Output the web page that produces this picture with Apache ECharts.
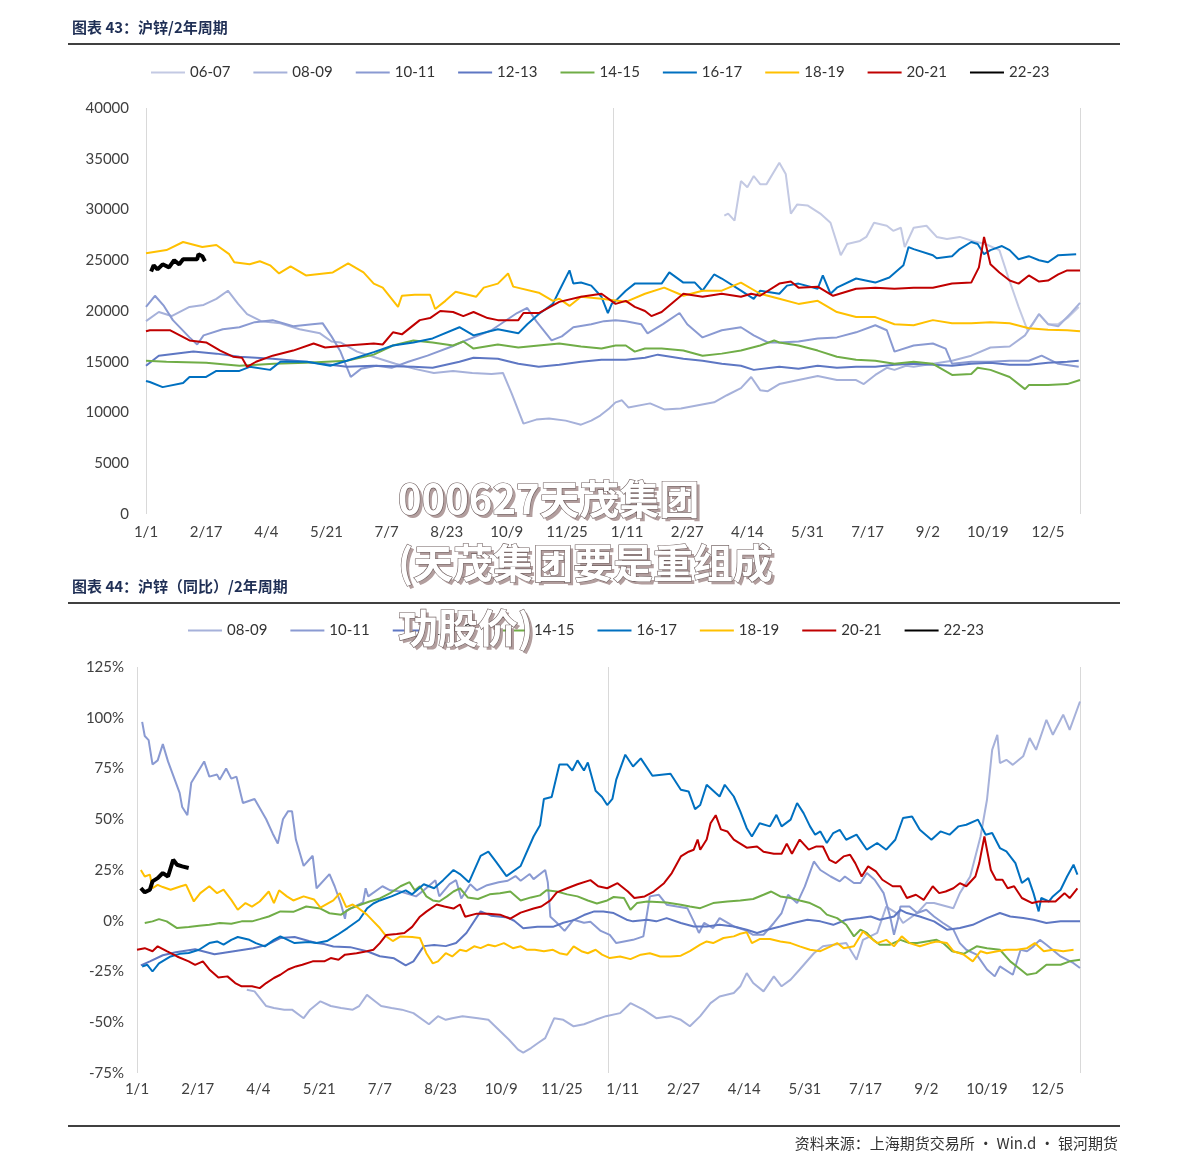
<!DOCTYPE html>
<html><head><meta charset="utf-8">
<script src="https://cdn.jsdelivr.net/npm/echarts/dist/echarts.min.js"></script>
<style>html,body{margin:0;padding:0;background:#fff;} #c{width:1191px;height:1172px;}</style>
</head><body><div id="c"></div><script>
// ---------- tick labels (every 47 days over a 2-year window, day 0 = 1/1) ----------
const tickLabels = ['1/1','2/17','4/4','5/21','7/7','8/23','10/9','11/25','1/11','2/27','4/14','5/31','7/17','9/2','10/19','12/5'];
const namesTop = ['06-07','08-09','10-11','12-13','14-15','16-17','18-19','20-21','22-23'];
const namesBottom = ['08-09','10-11','12-13','14-15','16-17','18-19','20-21','22-23'];

// ---------- Chart 43: price (yuan/t), [day, value] ----------
const p0607 = [[452,29400],[455,29600],[460,28900],[465,32800],[470,32200],[475,33300],[480,32500],[485,32500],[495,34600],[500,33500],[504,29600],[509,30500],[517,30400],[527,29600],[535,28700],[543,25500],[548,26600],[558,26900],[563,27300],[569,28700],[579,28400],[584,27900],[590,28200],[593,26300],[600,28200],[610,28400],[618,27300],[626,27100],[636,27300],[646,26900],[656,26600],[667,26000],[674,23300],[682,20400],[689,18100],[693,18700],[698,19700],[705,18700],[713,18700],[721,19400],[729,20400]];
const p0809 = [[0,19000],[10,19900],[20,19500],[34,20400],[45,20600],[55,21200],[64,22000],[72,20700],[79,19700],[90,19000],[105,18800],[120,18200],[136,17800],[145,17000],[152,16900],[165,16000],[180,15400],[195,14800],[210,14300],[225,13900],[240,14100],[255,13900],[270,13800],[279,13900],[286,11800],[295,8900],[305,9300],[315,9400],[328,9200],[340,8800],[348,9200],[355,9700],[362,10400],[367,11000],[372,11200],[377,10500],[394,10900],[405,10300],[418,10400],[444,11000],[454,11700],[465,12400],[473,13500],[480,12200],[486,12100],[495,12800],[510,13200],[525,13600],[540,13200],[555,13200],[561,12800],[570,13700],[579,14400],[585,14200],[594,14600],[600,14500],[615,14800],[630,15100],[645,15600],[660,16400],[675,16500],[687,17600],[698,19700],[705,18700],[713,18500],[723,19800],[730,20800]];
const p1011 = [[0,20400],[7,21500],[14,20500],[21,19100],[34,17400],[40,16700],[45,17600],[60,18200],[73,18400],[85,18900],[99,19100],[115,18500],[130,18700],[138,18800],[145,17500],[152,16000],[160,13500],[168,14300],[180,14600],[192,14400],[205,15000],[220,15600],[239,16500],[250,17100],[270,18100],[290,19800],[298,20300],[305,19000],[317,17100],[325,17500],[334,18400],[348,18700],[358,19000],[367,19100],[375,19000],[387,18700],[392,17800],[404,18700],[417,19800],[423,18700],[435,17400],[450,18100],[465,18400],[475,17600],[486,16900],[495,16900],[510,17000],[525,17300],[540,17400],[555,17900],[570,18600],[579,18100],[585,16000],[600,16600],[615,16800],[625,16300],[630,14800],[645,15000],[660,15000],[675,15100],[690,15100],[700,15600],[713,14800],[729,14500]];
const p1213 = [[0,14600],[10,15600],[37,16000],[55,15800],[73,15500],[99,15300],[125,15000],[157,14500],[178,14600],[209,14500],[224,14400],[245,15000],[256,15400],[275,15300],[291,14800],[307,14500],[323,14700],[340,15000],[356,15200],[375,15200],[390,15400],[400,15700],[420,15300],[435,15100],[450,14800],[465,14600],[475,14200],[495,14500],[510,14300],[525,14600],[540,14400],[555,14500],[570,14500],[585,14700],[600,14800],[615,14700],[630,14600],[645,14800],[660,14900],[675,14700],[690,14700],[705,14900],[720,15000],[729,15100]];
const p1415 = [[0,15100],[16,15000],[47,14900],[73,14600],[100,14800],[125,14900],[157,15100],[178,15700],[193,16600],[209,17100],[224,16900],[240,16600],[248,17000],[256,16300],[275,16700],[291,16400],[307,16600],[323,16800],[340,16500],[356,16300],[367,16600],[375,16600],[382,16000],[390,16300],[403,16300],[420,16100],[435,15600],[450,15800],[465,16100],[480,16600],[491,17100],[495,16900],[510,16600],[525,16100],[540,15500],[555,15200],[570,15100],[585,14800],[600,15000],[615,14800],[630,13700],[645,13800],[650,14400],[660,14200],[675,13500],[687,12300],[690,12700],[705,12700],[720,12800],[730,13200]];
const p1617 = [[0,13100],[3,13000],[13,12500],[29,12900],[34,13500],[47,13500],[55,14100],[73,14100],[81,14500],[97,14200],[105,15000],[126,15000],[144,14600],[157,15100],[178,15950],[193,16600],[209,16900],[224,17300],[245,18400],[256,17600],[275,18200],[291,17800],[298,18700],[307,19700],[318,20700],[323,22000],[331,24000],[334,22700],[340,22800],[348,22500],[356,21400],[361,19800],[364,20700],[367,21000],[375,22000],[382,22700],[403,22700],[409,23800],[420,22800],[429,22800],[435,22000],[444,23600],[450,23200],[465,22000],[475,21200],[480,22000],[495,21700],[501,22500],[510,22700],[525,22200],[529,23500],[535,21700],[540,22300],[555,23200],[570,22800],[581,23300],[592,24500],[596,26300],[600,26100],[615,25500],[618,25200],[630,25400],[636,26100],[645,26800],[650,26600],[655,25600],[660,26000],[669,26400],[675,26000],[682,25100],[690,25400],[698,25000],[705,24800],[713,25500],[727,25600]];
const p1819 = [[0,25700],[16,26000],[29,26800],[44,26300],[55,26500],[65,25600],[69,24800],[81,24600],[89,24900],[97,24500],[104,23700],[113,24400],[125,23500],[146,23800],[158,24700],[170,23800],[178,22700],[185,22300],[197,20400],[200,21500],[210,21600],[222,21600],[226,20200],[234,21000],[242,21900],[258,21400],[264,22300],[275,22700],[283,23700],[287,22400],[307,21800],[318,21000],[323,21200],[331,20500],[340,21400],[356,21200],[375,20900],[390,21700],[405,22300],[420,21500],[435,22000],[450,22000],[465,22800],[480,21700],[495,21200],[510,20700],[525,21000],[540,19900],[555,19400],[570,19400],[585,18700],[600,18600],[615,19100],[630,18800],[645,18800],[660,18900],[675,18800],[690,18300],[705,18150],[720,18100],[730,18000]];
const p2021 = [[0,18000],[3,18100],[19,18100],[34,17100],[47,16900],[58,16100],[68,15500],[75,15400],[79,14500],[86,15000],[99,15600],[115,16100],[131,16800],[140,16400],[157,16600],[178,16800],[185,16700],[193,17900],[200,17700],[214,19100],[222,19300],[230,20000],[240,19900],[248,19500],[256,19900],[267,19300],[275,19100],[291,19100],[295,19800],[307,19800],[323,20900],[340,21400],[356,21700],[367,20700],[375,21000],[382,20400],[390,20000],[395,19500],[403,19900],[420,21700],[435,21400],[450,21700],[465,21400],[473,21700],[480,21500],[495,22700],[504,22900],[510,22300],[525,22400],[537,21500],[555,22200],[570,22300],[585,22200],[600,22300],[615,22300],[630,22700],[645,22800],[651,24300],[655,27300],[660,24600],[667,23800],[675,23000],[682,22700],[690,23500],[698,22900],[705,23000],[713,23600],[720,24000],[730,24000]];
const p2223 = [[4,23900],[6,24500],[9,24100],[13,24600],[18,24300],[22,25000],[26,24600],[29,25100],[40,25100],[41,25600],[44,25400],[46,24900]];

// ---------- Chart 44: year-on-year (%), [day, value] ----------
const y0809 = [[85,-34],[91,-34.8],[95,-38],[100,-42],[106,-43],[114,-43.8],[120,-43.8],[129,-48],[134,-43.8],[142,-39.7],[150,-42],[158,-43],[167,-43.8],[172,-42],[178,-36.5],[183,-39],[189,-42],[197,-43],[205,-43.8],[214,-45.5],[226,-51],[233,-47],[239,-48.8],[244,-48],[252,-47],[264,-48],[272,-48.8],[280,-53.7],[288,-58.6],[295,-63.5],[299,-65],[305,-62.7],[311,-60],[316,-57.8],[323,-48],[330,-48.8],[338,-52],[346,-51],[355,-48.8],[363,-47],[374,-45.5],[382,-40.6],[392,-43.8],[402,-48],[413,-47],[421,-48.8],[428,-52],[436,-47],[444,-40.6],[451,-37.3],[462,-35.6],[467,-32.3],[472,-25.8],[477,-30.7],[485,-34.8],[493,-27.4],[499,-32.3],[506,-29],[513,-24],[524,-16],[531,-12.6],[539,-11.8],[549,-11],[557,-19.2],[562,-9.4],[573,-6],[580,7],[588,3.8],[593,-1.1],[604,3.8],[611,8.7],[617,8.7],[632,6.2],[637,13.6],[645,21.8],[653,41.5],[658,59.6],[662,84.2],[666,91.6],[668,77.7],[673,79.3],[678,76.8],[686,81],[691,90],[696,84.2],[704,99],[709,91.6],[717,101.5],[722,94],[730,108]];
const y1011 = [[4,98],[6,91],[9,89],[12,77],[16,79],[20,87],[24,78.5],[33,63],[35,56],[39,52],[42,68],[52,78.5],[56,71],[62,72],[64,69.5],[69,75],[73,70],[77,71],[82,58],[91,60],[100,50],[105,43],[109,38],[113,50],[117,54],[120,54],[123,40],[129,27],[136,32],[139,16],[149,23],[153,17],[158,8],[161,1],[162,5],[175,9],[177,16],[179,12],[190,17],[196,15],[204,14.4],[216,12],[222,15],[231,20],[234,12],[242,18],[247,20],[251,11],[258,18],[263,15],[271,17.5],[280,19],[287,19.7],[293,22],[297,19.7],[304,23],[307,20.5],[316,25],[318,19],[320,2],[325,-1],[331,-5],[338,0.5],[346,-1],[351,-0.5],[359,-5],[366,-7],[371,-11],[384,-9.4],[392,-7.7],[397,12],[404,12.8],[410,7.9],[418,7],[426,6.2],[431,-0.3],[435,-6],[439,-1.1],[446,-3.6],[451,1.3],[462,-2.8],[470,-4.4],[477,-6.9],[485,-6.9],[493,-1.1],[499,3.8],[504,12.8],[511,8.7],[517,16.9],[524,29.2],[529,25],[537,21.8],[544,19.4],[548,21.8],[555,18.6],[560,18.6],[565,23.5],[571,20.2],[578,13.6],[583,2.1],[586,-6.9],[589,0.5],[591,7],[598,7],[604,3.8],[611,5.4],[617,2.1],[624,-1.1],[632,-4.4],[637,-11],[642,-14.3],[650,-16.7],[658,-24],[664,-27.4],[668,-22.5],[678,-26.6],[684,-14.3],[689,-15],[694,-12.6],[699,-9.4],[704,-11.8],[715,-17.6],[725,-20.9],[730,-23.3]];
const y1213 = [[3,-22],[10,-20],[20,-17],[30,-15.5],[45,-14],[60,-16.5],[75,-15],[90,-13.5],[100,-12],[111,-8.5],[122,-8],[133,-10],[139,-11],[145,-11.5],[152,-12.7],[165,-13],[178,-15],[188,-17.5],[199,-18.5],[208,-22],[214,-20],[222,-12.5],[230,-12],[239,-12.5],[247,-11],[255,-6],[266,4.6],[274,2.5],[287,1.6],[292,0],[299,-3.7],[310,-3],[322,-3],[330,-1],[338,0.3],[346,2.8],[354,4.6],[361,4.6],[369,3.8],[379,0.5],[384,-0.3],[395,0.5],[402,-0.3],[410,1.3],[421,-1.1],[431,-2.8],[441,-2.8],[451,-2],[462,-2.8],[472,-4.4],[480,-6],[488,-4.4],[498,-2.8],[508,-1.1],[519,0.5],[529,-0.3],[539,-2],[549,0.5],[560,1.3],[568,2.1],[575,0.5],[586,2.1],[591,5.4],[596,3.8],[606,2.1],[617,-0.3],[627,-4.4],[637,-3.6],[647,-2],[658,1.3],[668,3.8],[676,2.1],[686,1.3],[694,0.5],[704,-1.1],[715,-0.3],[730,-0.3]];
const y1415 = [[6,-1.1],[12,-0.3],[17,0.8],[23,-0.3],[31,-3.6],[40,-3.1],[48,-2.5],[56,-2],[64,-1.1],[73,-1.5],[81,-0.3],[89,-0.3],[95,0.8],[102,2.1],[111,4.6],[121,4.4],[131,7],[142,6],[149,3.7],[158,3],[165,6],[173,7.9],[180,9.5],[188,11],[196,13.6],[204,17],[211,19],[215,15],[219,17],[224,12],[229,10],[234,9.5],[240,12],[245,14.4],[250,16],[256,11.5],[264,10.7],[273,13],[281,13.5],[289,14.4],[297,10],[305,11.5],[312,12.5],[317,15],[325,14.4],[333,13],[341,12],[349,10],[356,8.5],[364,10],[369,11.7],[377,11.2],[382,5.4],[387,8.7],[395,9.5],[410,9],[421,7.9],[428,7],[436,6.2],[446,8.7],[457,9.5],[467,10],[477,10.7],[485,12.8],[491,14.4],[498,12],[506,11.2],[513,10],[521,8.7],[529,6.2],[534,3],[542,1.3],[549,-2],[555,-7.7],[560,-4.4],[565,-6],[570,-9.4],[575,-11.8],[583,-11.8],[591,-9.4],[598,-11],[604,-11],[611,-10.2],[619,-9.4],[624,-11],[631,-15],[640,-16.3],[650,-12.6],[658,-13.5],[668,-14.3],[676,-20],[684,-24],[689,-26.6],[696,-25.8],[704,-21.7],[715,-21.7],[722,-20],[730,-19.2]];
const y1617 = [[4,-22.5],[8,-21.7],[12,-25],[17,-21],[26,-17.6],[33,-16.3],[40,-15.9],[48,-14.3],[56,-11],[62,-10.2],[67,-11.8],[73,-9.4],[78,-8],[87,-9.4],[92,-11],[99,-12.6],[106,-9.4],[111,-7.7],[122,-11],[133,-10.5],[139,-11],[147,-10],[155,-7],[163,-3.6],[172,0.5],[178,6],[183,8.5],[188,10],[197,12],[208,15],[213,13],[222,18],[230,16],[237,20],[245,25],[250,23],[257,19],[266,32],[272,34],[278,29],[286,22],[297,27],[307,41.5],[312,47],[315,60],[321,61],[327,77],[333,77],[337,74],[341,79],[346,74],[349,78],[355,64],[360,61],[364,57],[368,60],[371,69.5],[378,81.8],[384,76],[390,80],[399,71.4],[413,72.4],[421,64.5],[427,63.7],[432,55],[436,57],[441,67],[448,62.9],[451,61.2],[455,67],[462,61.2],[467,53.9],[472,45.6],[476,41.5],[482,48],[490,46.5],[495,52.2],[499,46.5],[506,49.8],[511,58],[516,53],[521,46.5],[525,42.4],[529,44],[534,38.3],[539,43.2],[544,44.8],[549,39.9],[557,42.4],[565,35],[573,38.3],[580,35],[587,39.9],[593,50.6],[600,51.4],[606,44.8],[615,39.9],[622,44],[629,42.4],[636,46.5],[642,47.3],[651,49.8],[657,42.4],[662,43.2],[668,35.8],[673,34.2],[680,28.4],[685,18.6],[690,21],[694,13.6],[698,4.6],[700,11.2],[706,9.5],[709,12],[715,15.3],[720,21.8],[725,27.6],[728,22.7]];
const y1819 = [[3,25],[6,21.8],[10,22.7],[12,16],[16,17.7],[20,16.6],[26,15.3],[34,17],[38,17.7],[44,9.5],[49,13.6],[56,17],[62,13.6],[67,15.3],[73,10.3],[78,5.4],[84,8.7],[89,7],[95,9.5],[102,14.4],[106,8.7],[110,15],[116,12],[121,10],[129,12],[137,10.5],[142,6.5],[152,10],[157,13.6],[162,6.7],[167,8],[171,6.4],[178,3],[183,-0.3],[188,-3.6],[193,-7.7],[198,-10],[204,-7.7],[213,-8],[219,-8.5],[224,-16],[229,-21],[233,-20],[239,-16],[244,-17.6],[250,-14.3],[255,-15],[261,-12.6],[266,-13.5],[272,-11.8],[277,-12.6],[284,-11],[291,-13.5],[297,-12.6],[302,-14.3],[308,-14.3],[315,-15],[322,-14.3],[327,-16],[333,-16.7],[338,-12.6],[344,-15],[349,-16],[355,-14.3],[360,-16.7],[366,-18.4],[374,-17.6],[382,-18.9],[390,-16.7],[397,-16],[405,-17.6],[413,-17.6],[421,-17.2],[428,-15],[436,-11.8],[441,-10.2],[446,-11],[454,-8.5],[462,-7.7],[467,-6.4],[472,-5.7],[476,-11],[482,-9],[490,-9],[498,-10.2],[506,-11],[513,-12.6],[521,-14.3],[529,-15],[537,-12.6],[542,-11],[547,-13.5],[555,-12.6],[562,-5.3],[568,-8.5],[573,-11],[580,-9.4],[586,-12.6],[592,-7.7],[598,-11],[606,-12.6],[614,-11],[619,-10.2],[627,-11],[632,-15],[640,-16.7],[647,-20],[653,-15],[658,-16],[666,-15],[673,-14.3],[681,-14.3],[689,-13.5],[695,-11],[702,-15],[709,-14.3],[717,-15],[725,-14.3]];
const y2021 = [[0,-14.3],[6,-13.5],[12,-15],[16,-12.6],[23,-15],[31,-17.6],[40,-20],[45,-21.7],[51,-20],[56,-24],[63,-28],[70,-27.4],[76,-30.7],[81,-32.3],[89,-32.3],[95,-33.2],[100,-30.7],[106,-28.2],[111,-26.6],[117,-24],[123,-22.5],[128,-21.7],[136,-20],[145,-20],[150,-18.4],[156,-19.2],[161,-16.7],[170,-16],[178,-15],[183,-14.3],[188,-11],[193,-7],[201,-6.5],[207,-6],[213,-3],[219,2],[224,4.5],[232,8],[238,7],[245,6],[250,8],[254,2],[263,3.5],[272,3.5],[281,3],[289,1],[297,4],[307,6],[313,7],[320,10],[325,14],[333,16],[341,18],[351,20],[357,17],[364,16],[372,18.5],[380,14.4],[385,11.2],[393,12],[400,14.4],[408,18.5],[414,23.5],[421,31.7],[427,34],[431,35],[434,40],[436,35],[441,40],[444,48],[448,52],[452,45],[457,44],[462,40],[467,38],[472,36],[480,36.6],[485,34],[493,33],[499,33],[503,38],[507,33],[513,40],[520,35],[526,36.6],[531,36.6],[536,30],[541,28.4],[547,31.7],[552,32.5],[556,28.4],[561,21.8],[566,26.8],[572,24.3],[577,20.2],[585,17],[591,17],[596,11.2],[603,12.8],[609,10.3],[616,17],[621,13.6],[626,14.4],[632,16],[637,18.5],[642,17],[649,21.8],[652,28.4],[656,41.5],[661,25],[665,20.2],[670,20.2],[674,16],[679,17],[685,11.2],[693,8.7],[698,9.5],[705,9.5],[711,9.5],[718,13.6],[722,11.2],[728,16]];
const y2223 = [[3,16.1],[6,14],[10,15.3],[12,19.4],[16,21],[20,23.5],[24,21.8],[28,30],[31,27.6],[35,26.8],[40,26]];

// ---------- styling ----------
const colors = {'06-07':'#C3C9E3','08-09':'#A6B1DA','10-11':'#8A9AD2','12-13':'#5E77C3','14-15':'#70AD47','16-17':'#0070C0','18-19':'#FFC000','20-21':'#C00000','22-23':'#000000'};
const priceData = {'06-07':p0607,'08-09':p0809,'10-11':p1011,'12-13':p1213,'14-15':p1415,'16-17':p1617,'18-19':p1819,'20-21':p2021,'22-23':p2223};
const yoyData = {'08-09':y0809,'10-11':y1011,'12-13':y1213,'14-15':y1415,'16-17':y1617,'18-19':y1819,'20-21':y2021,'22-23':y2223};

const FONT = 'Lato, "Noto Sans", sans-serif';
const CJK = '"Noto Sans CJK SC", sans-serif';
const labelColor = '#404040';

function xLabel(v){
  const i = Math.round(v/47);
  return (Math.abs(v - i*47) < 1e-6 && i >= 0 && i < tickLabels.length) ? tickLabels[i] : '';
}
function mkSeries(name, data, xi, yi){
  return {
    name, type:'line', data, xAxisIndex:xi, yAxisIndex:yi,
    symbol:'none', showSymbol:false, smooth:false, animation:false,
    lineStyle:{color:colors[name], width: name==='22-23' ? 4 : 2},
    itemStyle:{color:colors[name]},
    emphasis:{disabled:true}
  };
}
const series = [];
namesTop.forEach(n => series.push(mkSeries(n, priceData[n], 0, 0)));
namesBottom.forEach(n => series.push(mkSeries(n, yoyData[n], 2, 1)));

function labelAxis(grid, margin){
  return {type:'value', gridIndex:grid, min:0, max:730, interval:47,
    axisLine:{show:false}, axisTick:{show:false}, splitLine:{show:false},
    axisLabel:{formatter:xLabel, color:labelColor, fontSize:15, fontFamily:FONT, margin:margin}};
}
function splitAxis(grid){
  return {type:'value', gridIndex:grid, min:0, max:730, interval:365, position:'top',
    axisLine:{show:false}, axisTick:{show:false}, axisLabel:{show:false},
    splitLine:{show:true, lineStyle:{color:'#D9D9D9', width:1}}};
}
function legend(data, left, top){
  return {data, left, top, itemWidth:34, itemHeight:14, itemGap:22, selectedMode:false,
    itemStyle:{opacity:0},
    textStyle:{color:'#333', fontSize:15, fontFamily:FONT}};
}
function txt(text, x, y, font, fill, align){
  return {type:'text', x, y, silent:true, style:{text, font, fill, textAlign:align||'left', textVerticalAlign:'middle'}};
}
function hline(y){
  return {type:'line', silent:true, shape:{x1:68, y1:y, x2:1120, y2:y}, style:{stroke:'#000', lineWidth:1.5}};
}
const wmFont = 'bold 40px "Noto Sans CJK SC", sans-serif';
const wmLines = ['000627天茂集团','(天茂集团要是重组成','功股价)'];
const wmY = [499, 563, 628];
const graphics = [
  txt('图表 43：沪锌/2年周期', 72, 27, 'bold 15px ' + CJK, '#1F2F55'),
  hline(44),
  txt('图表 44：沪锌（同比）/2年周期', 72, 586, 'bold 15px ' + CJK, '#1F2F55'),
  hline(603),
  hline(1126),
  txt('资料来源：上海期货交易所 · Win.d · 银河期货', 1118, 1143, '15px ' + CJK, '#333', 'right')
];
wmLines.forEach((t,i) => {
  graphics.push({type:'text', x:401, y:wmY[i]+3, z:100, silent:true,
    style:{text:t, font:wmFont, fill:'#B29E9E', textVerticalAlign:'middle'}});
  graphics.push({type:'text', x:398, y:wmY[i], z:101, silent:true,
    style:{text:t, font:wmFont, fill:'#FFFFFF', stroke:'#6E5E5E', lineWidth:1.2, textVerticalAlign:'middle'}});
});

const option = {
  animation:false,
  backgroundColor:'#fff',
  legend:[legend(namesTop, 145, 60), legend(namesBottom, 182, 618)],
  grid:[
    {left:146, right:111, top:108, height:406, containLabel:false},
    {left:137, right:111, top:667, height:406, containLabel:false}
  ],
  xAxis:[labelAxis(0, 11), splitAxis(0), labelAxis(1, 9), splitAxis(1)],
  yAxis:[
    {type:'value', gridIndex:0, min:0, max:40000, interval:5000,
      axisLine:{show:false}, axisTick:{show:false}, splitLine:{show:false},
      axisLabel:{color:labelColor, fontSize:15, fontFamily:FONT, margin:17, formatter:v => String(v)}},
    {type:'value', gridIndex:1, min:-75, max:125, interval:25,
      axisLine:{show:false}, axisTick:{show:false}, splitLine:{show:false},
      axisLabel:{color:labelColor, fontSize:15, fontFamily:FONT, margin:13, formatter:'{value}%'}}
  ],
  series,
  graphic:graphics
};
const chart = echarts.init(document.getElementById('c'), null, {renderer:'canvas'});
chart.setOption(option);
</script></body></html>
